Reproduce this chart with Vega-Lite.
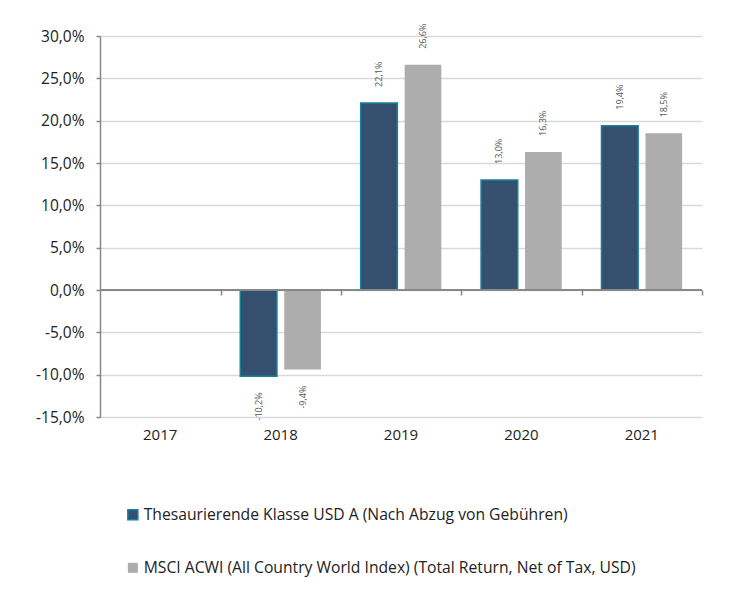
{
  "$schema": "https://vega.github.io/schema/vega-lite/v6.json",
  "width": 602,
  "height": 381,
  "autosize": {"type": "none"},
  "padding": {"left": 100, "top": 36, "right": 42, "bottom": 173},
  "background": "white",
  "config": {
    "locale": {"number": {"decimal": ",", "thousands": ".", "grouping": [3], "currency": ["", " €"], "minus": "-"}},
    "font": "Open Sans",
    "view": {"stroke": null}
  },
  "data": {
    "values": [
      {"year": "2018", "series": "Thesaurierende Klasse USD A (Nach Abzug von Gebühren)", "value": -0.102},
      {"year": "2018", "series": "MSCI ACWI (All Country World Index) (Total Return, Net of Tax, USD)", "value": -0.094},
      {"year": "2019", "series": "Thesaurierende Klasse USD A (Nach Abzug von Gebühren)", "value": 0.221},
      {"year": "2019", "series": "MSCI ACWI (All Country World Index) (Total Return, Net of Tax, USD)", "value": 0.266},
      {"year": "2020", "series": "Thesaurierende Klasse USD A (Nach Abzug von Gebühren)", "value": 0.130},
      {"year": "2020", "series": "MSCI ACWI (All Country World Index) (Total Return, Net of Tax, USD)", "value": 0.163},
      {"year": "2021", "series": "Thesaurierende Klasse USD A (Nach Abzug von Gebühren)", "value": 0.194},
      {"year": "2021", "series": "MSCI ACWI (All Country World Index) (Total Return, Net of Tax, USD)", "value": 0.185}
    ]
  },
  "resolve": {"axis": {"x": "independent"}},
  "layer": [
    {
      "mark": {"type": "bar", "strokeWidth": 1.5},
      "encoding": {
        "x": {
          "field": "year", "type": "nominal",
          "scale": {"domain": ["2017", "2018", "2019", "2020", "2021"], "paddingInner": 0.33, "paddingOuter": 0.165},
          "axis": {"title": null, "labelAngle": 0, "domain": false, "ticks": false, "labelPadding": 10, "labelFontSize": 15, "labelColor": "#222222"}
        },
        "xOffset": {
          "field": "series", "type": "nominal",
          "scale": {"domain": ["Thesaurierende Klasse USD A (Nach Abzug von Gebühren)", "MSCI ACWI (All Country World Index) (Total Return, Net of Tax, USD)"], "paddingInner": 0.166, "paddingOuter": 0}
        },
        "y": {
          "field": "value", "type": "quantitative",
          "scale": {"domain": [-0.15, 0.30], "nice": false, "zero": false},
          "axis": {
            "title": null, "format": ".1%",
            "values": [-0.15, -0.10, -0.05, 0, 0.05, 0.10, 0.15, 0.20, 0.25, 0.30],
            "grid": true, "gridColor": "#d9d9d9", "gridWidth": 1.5,
            "domainColor": "#888888", "domainWidth": 1.5,
            "tickColor": "#888888", "tickSize": 4, "tickWidth": 1.5,
            "labelPadding": 12, "labelFontSize": 15.5, "labelColor": "#222222"
          }
        },
        "color": {
          "field": "series", "type": "nominal",
          "scale": {"domain": ["Thesaurierende Klasse USD A (Nach Abzug von Gebühren)", "MSCI ACWI (All Country World Index) (Total Return, Net of Tax, USD)"], "range": ["#34506e", "#adadae"]},
          "legend": {
            "title": null, "orient": "none", "legendX": 25, "legendY": 471, "direction": "vertical",
            "symbolType": "square", "symbolSize": 100, "symbolStrokeWidth": 1.5,
            "labelFontSize": 15.7, "labelColor": "#222222", "labelOffset": 3, "labelLimit": 700, "rowPadding": 36
          }
        },
        "stroke": {
          "field": "series", "type": "nominal",
          "scale": {"domain": ["Thesaurierende Klasse USD A (Nach Abzug von Gebühren)", "MSCI ACWI (All Country World Index) (Total Return, Net of Tax, USD)"], "range": ["#17809b", "rgba(0,0,0,0)"]},
          "legend": {
            "title": null, "orient": "none", "legendX": 25, "legendY": 471, "direction": "vertical",
            "symbolType": "square", "symbolSize": 100, "symbolStrokeWidth": 1.5,
            "labelFontSize": 15.7, "labelColor": "#222222", "labelOffset": 3, "labelLimit": 700, "rowPadding": 36
          }
        }
      }
    },
    {
      "mark": {"type": "rule", "color": "#888888", "strokeWidth": 1.5},
      "encoding": {"y": {"datum": 0, "type": "quantitative"}}
    },
    {
      "transform": [{"filter": "datum.value >= 0"}],
      "mark": {"type": "text", "angle": 270, "align": "left", "baseline": "middle", "dx": 16, "fontSize": 9, "color": "#555555"},
      "encoding": {
        "x": {"field": "year", "type": "nominal", "axis": null},
        "xOffset": {"field": "series", "type": "nominal"},
        "y": {"field": "value", "type": "quantitative"},
        "text": {"field": "value", "type": "quantitative", "format": ".1%"}
      }
    },
    {
      "transform": [{"filter": "datum.value < 0"}],
      "mark": {"type": "text", "angle": 270, "align": "right", "baseline": "middle", "dx": -16, "fontSize": 9, "color": "#555555"},
      "encoding": {
        "x": {
          "field": "year", "type": "nominal",
          "axis": {"title": null, "orient": "bottom", "offset": -127, "labels": false, "domain": false, "ticks": true, "bandPosition": 1, "tickOffset": 20, "tickSize": 5, "tickColor": "#888888", "tickWidth": 1.5, "grid": false}
        },
        "xOffset": {"field": "series", "type": "nominal"},
        "y": {"field": "value", "type": "quantitative"},
        "text": {"field": "value", "type": "quantitative", "format": ".1%"}
      }
    }
  ]
}
